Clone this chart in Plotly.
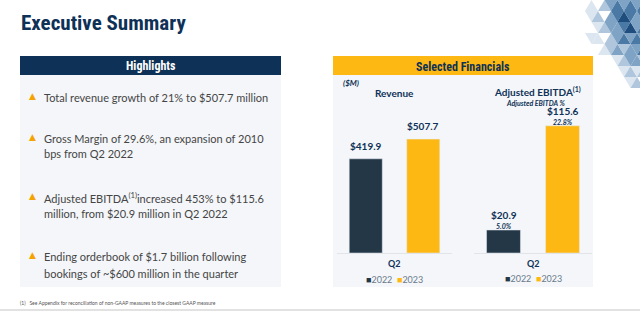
import plotly.graph_objects as go

# ---------------- data ----------------
years = ["2022", "2023"]
revenue = [419.9, 507.7]
ebitda = [20.9, 115.6]
ebitda_margin = [5.0, 22.8]
period = "Q2"
bullets = [
    ["Total revenue growth of 21% to $507.7 million"],
    ["Gross Margin of 29.6%, an expansion of 2010", "bps from Q2 2022"],
    ["Adjusted EBITDA<sup>(1)</sup>increased 453% to $115.6", "million, from $20.9 million in Q2 2022"],
    ["Ending orderbook of $1.7 billion following", "bookings of ~$600 million in the quarter"],
]
bullet_rows = [[97], [138, 154], [197, 213], [256, 273]]

# ---------------- style ----------------
W, H = 640, 311
NAVY = "#0E3157"
DARK = "#243747"
GOLD = "#FDB813"
PANEL = "#F4F6F9"
TXT = "#454545"
COND = ("Noto Sans Condensed, Roboto Condensed, DejaVu Sans Condensed, "
        "Liberation Sans Narrow, Arial Narrow, Roboto, sans-serif")
BODY = "Lato, Noto Sans, sans-serif"
colors = [DARK, GOLD]


def px(x):
    return x / W


def py(y):
    return 1 - y / H


fig = go.Figure()
fig.add_trace(go.Bar(x=years, y=revenue, marker=dict(color=colors), xaxis="x", yaxis="y",
                     showlegend=False, hoverinfo="skip"))
fig.add_trace(go.Bar(x=years, y=ebitda, marker=dict(color=colors), xaxis="x2", yaxis="y2",
                     showlegend=False, hoverinfo="skip"))

ann = []
shapes = []

# background panels
shapes += [
    dict(type="rect", xref="paper", yref="paper", x0=px(20), x1=px(281), y0=py(287), y1=py(75),
         fillcolor=PANEL, line_width=0, layer="below"),
    dict(type="rect", xref="paper", yref="paper", x0=px(20), x1=px(281), y0=py(75), y1=py(56),
         fillcolor=NAVY, line_width=0, layer="below"),
    dict(type="rect", xref="paper", yref="paper", x0=px(333), x1=px(593), y0=py(287), y1=py(75),
         fillcolor=PANEL, line_width=0, layer="below"),
    dict(type="rect", xref="paper", yref="paper", x0=px(333), x1=px(593), y0=py(75), y1=py(56),
         fillcolor=GOLD, line_width=0, layer="below"),
    dict(type="line", xref="paper", yref="paper", x0=0, x1=1, y0=py(310), y1=py(310),
         line=dict(color="#E2E2E2", width=2)),
]

# decorative triangle pattern (top right)
pattern = [
    "..a.bcdcdcd",
    "..ab.cdedcd",
    "...abccdecd",
    "..aa.bcdcdc",
    "....abcbccd",
    "......abccb",
    ".......abab",
    "........ab.",
]
shade = {"a": "#DCE6F0", "b": "#AFC6DC", "c": "#7EA3C4", "d": "#4A79A5", "e": "#1F4E7E"}
tw, th, x0 = 13, 11, 572
for r, row in enumerate(pattern):
    for k, ch in enumerate(row):
        if ch == ".":
            continue
        xl = x0 + k * tw / 2
        xr = xl + tw
        xm = xl + tw / 2
        yt, yb = r * th, (r + 1) * th
        if (k + r) % 2 == 0:
            path = f"M{px(xl)},{py(yb)} L{px(xr)},{py(yb)} L{px(xm)},{py(yt)} Z"
        else:
            path = f"M{px(xl)},{py(yt)} L{px(xr)},{py(yt)} L{px(xm)},{py(yb)} Z"
        shapes.append(dict(type="path", xref="paper", yref="paper", path=path,
                           fillcolor=shade[ch], line_width=0, layer="below"))

# title and headers
ann.append(dict(text="<b>Executive Summary</b>", x=px(19), y=py(23), xref="paper", yref="paper",
                xanchor="left", yanchor="middle", showarrow=False,
                font=dict(family=COND, size=21, color=NAVY)))
ann.append(dict(text="<b>Highlights</b>", x=px(150.5), y=py(66), xref="paper", yref="paper",
                xanchor="center", yanchor="middle", showarrow=False,
                font=dict(family=COND, size=12, color="white")))
ann.append(dict(text="<b>Selected Financials</b>", x=px(463), y=py(67), xref="paper", yref="paper",
                xanchor="center", yanchor="middle", showarrow=False,
                font=dict(family=COND, size=12, color=NAVY)))

# bullets
for lines, rows in zip(bullets, bullet_rows):
    ann.append(dict(text="▲", x=px(32), y=py(rows[0] - 1), xref="paper", yref="paper",
                    xanchor="center", yanchor="middle", showarrow=False,
                    font=dict(family="DejaVu Sans", size=9, color="#F5A300")))
    for ln, yy in zip(lines, rows):
        ann.append(dict(text=ln, x=px(42), y=py(yy), xref="paper", yref="paper",
                        xanchor="left", yanchor="middle", showarrow=False,
                        font=dict(family=BODY, size=11, color=TXT)))

ann.append(dict(text="(1)&nbsp;&nbsp;&nbsp;See Appendix for reconciliation of non-GAAP measures to the closest GAAP measure",
                x=px(18), y=py(303), xref="paper", yref="paper", xanchor="left", yanchor="middle",
                showarrow=False, font=dict(family=BODY, size=5, color="#555")))

# chart headings
ann.append(dict(text="<b><i>($M)</i></b>", x=px(341), y=py(83), xref="paper", yref="paper",
                xanchor="left", yanchor="middle", showarrow=False,
                font=dict(family=BODY, size=8, color=NAVY)))
ann.append(dict(text="<b>Revenue</b>", x=px(394.5), y=py(93), xref="paper", yref="paper",
                xanchor="center", yanchor="middle", showarrow=False,
                font=dict(family=BODY, size=10, color=NAVY)))
ann.append(dict(text="<b>Adjusted EBITDA</b><sup><b>(1)</b></sup>", x=px(537), y=py(92),
                xref="paper", yref="paper", xanchor="center", yanchor="middle", showarrow=False,
                font=dict(family=BODY, size=10, color=NAVY, weight="bold")))
ann.append(dict(text="<b><i>Adjusted EBITDA %</i></b>", x=px(535), y=py(103), xref="paper", yref="paper",
                xanchor="center", yanchor="middle", showarrow=False,
                font=dict(family=BODY, size=7, color=NAVY)))

# value labels (x given as category index)
for i in range(len(years)):
    ann.append(dict(text=f"<b>${revenue[i]:.1f}</b>", x=i, y=revenue[i], xref="x", yref="y",
                    yanchor="middle", yshift=13, showarrow=False,
                    font=dict(family=BODY, size=10, color=NAVY)))
    ann.append(dict(text=f"<b>${ebitda[i]:.1f}</b>", x=i, y=ebitda[i], xref="x2", yref="y2",
                    yanchor="middle", yshift=15, showarrow=False,
                    font=dict(family=BODY, size=10, color=NAVY)))
    ann.append(dict(text=f"<b><i>{ebitda_margin[i]:.1f}%</i></b>", x=i, y=ebitda[i], xref="x2", yref="y2",
                    yanchor="middle", yshift=4, showarrow=False, borderpad=0,
                    font=dict(family=BODY, size=7, color=NAVY)))

# period labels and legends
legend_txt = "&nbsp;&nbsp;".join(
    f'<span style="color:{c}">■</span>{y}' for c, y in zip(colors, years))
for xr, ly in (("x", 279), ("x2", 278)):
    ann.append(dict(text=f"<b>{period}</b>", x=0.5, y=py(263), xref=f"{xr} domain", yref="paper",
                    xanchor="center", yanchor="middle", showarrow=False,
                    font=dict(family=BODY, size=9, color=NAVY)))
    ann.append(dict(text=legend_txt, x=0.5, y=py(ly), xref=f"{xr} domain", yref="paper",
                    xanchor="center", yanchor="middle", showarrow=False,
                    font=dict(family=BODY, size=9, color="#6A7A8C")))

axis_x = dict(type="category", showticklabels=False, range=[-0.5, 1.5],
              showgrid=False, zeroline=False, showline=True, linecolor="#E1E5EA", linewidth=1,
              ticks="", fixedrange=True)
axis_y = dict(showticklabels=False, showgrid=False, zeroline=False, showline=False, ticks="",
              fixedrange=True)

fig.update_layout(
    width=W, height=H, margin=dict(l=0, r=0, t=0, b=0),
    paper_bgcolor="white", plot_bgcolor="rgba(0,0,0,0)",
    bargap=0.425,
    xaxis=dict(axis_x, domain=[px(337), px(452)], anchor="y"),
    yaxis=dict(axis_y, domain=[py(253), py(118.4)], range=[0, 600], anchor="x"),
    xaxis2=dict(axis_x, domain=[px(474), px(592)], anchor="y2"),
    yaxis2=dict(axis_y, domain=[py(253), py(110)], range=[0, 130], anchor="x2"),
    annotations=ann, shapes=shapes, showlegend=False,
)

fig.write_html("out.html")
